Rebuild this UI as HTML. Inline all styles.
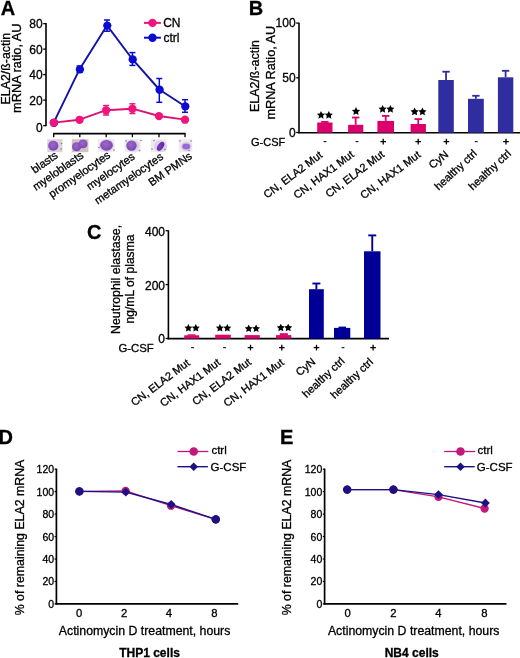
<!DOCTYPE html>
<html><head><meta charset="utf-8"><style>
html,body{margin:0;padding:0;background:#fff;width:520px;height:658px;overflow:hidden}
svg{display:block;font-family:"Liberation Sans",sans-serif;will-change:transform}
text{stroke:#000;stroke-width:0.3px}
</style></head><body>
<svg width="520" height="658" viewBox="0 0 520 658">
<rect width="520" height="658" fill="#fff"/>
<text x="0.70" y="14.60" font-size="20" text-anchor="start" font-weight="bold" fill="#000">A</text>
<text transform="translate(9.60,68.66) rotate(-90)" font-size="12.36" text-anchor="middle" font-weight="normal" fill="#000">ELA2/&#223;-actin</text>
<text transform="translate(21.40,68.20) rotate(-90)" font-size="12.81" text-anchor="middle" font-weight="normal" fill="#000">mRNA ratio, AU</text>
<line x1="46.00" y1="22.90" x2="46.00" y2="126.20" stroke="#000" stroke-width="1.6"/>
<line x1="43.20" y1="125.60" x2="46.00" y2="125.60" stroke="#000" stroke-width="1.3"/>
<text x="42.70" y="131.50" font-size="12" text-anchor="end" font-weight="normal" fill="#000">0</text>
<line x1="43.20" y1="100.11" x2="46.00" y2="100.11" stroke="#000" stroke-width="1.3"/>
<text x="42.70" y="104.91" font-size="12" text-anchor="end" font-weight="normal" fill="#000">20</text>
<line x1="43.20" y1="74.62" x2="46.00" y2="74.62" stroke="#000" stroke-width="1.3"/>
<text x="42.70" y="79.42" font-size="12" text-anchor="end" font-weight="normal" fill="#000">40</text>
<line x1="43.20" y1="49.13" x2="46.00" y2="49.13" stroke="#000" stroke-width="1.3"/>
<text x="42.70" y="53.93" font-size="12" text-anchor="end" font-weight="normal" fill="#000">60</text>
<line x1="43.20" y1="23.64" x2="46.00" y2="23.64" stroke="#000" stroke-width="1.3"/>
<text x="42.70" y="28.44" font-size="12" text-anchor="end" font-weight="normal" fill="#000">80</text>
<line x1="53.20" y1="133.60" x2="185.60" y2="133.60" stroke="#000" stroke-width="1.6"/>
<line x1="53.70" y1="133.60" x2="53.70" y2="137.20" stroke="#000" stroke-width="1.3"/>
<line x1="79.80" y1="133.60" x2="79.80" y2="137.20" stroke="#000" stroke-width="1.3"/>
<line x1="106.20" y1="133.60" x2="106.20" y2="137.20" stroke="#000" stroke-width="1.3"/>
<line x1="132.40" y1="133.60" x2="132.40" y2="137.20" stroke="#000" stroke-width="1.3"/>
<line x1="159.00" y1="133.60" x2="159.00" y2="137.20" stroke="#000" stroke-width="1.3"/>
<line x1="185.00" y1="133.60" x2="185.00" y2="137.20" stroke="#000" stroke-width="1.3"/>
<rect x="47.30" y="139.20" width="15.20" height="13.00" fill="#ddd4cf"/>
<rect x="71.80" y="139.20" width="16.60" height="13.00" fill="#d2c2c4"/>
<rect x="97.80" y="139.20" width="17.00" height="13.00" fill="#f1ecef"/>
<rect x="124.60" y="139.20" width="16.20" height="13.00" fill="#eeeaee"/>
<rect x="150.80" y="139.20" width="15.40" height="13.00" fill="#efebee"/>
<rect x="178.50" y="139.20" width="13.80" height="13.00" fill="#f0ecee"/>
<defs><radialGradient id="cg" cx="45%" cy="40%" r="60%"><stop offset="0" stop-color="#9c68cc"/><stop offset="1" stop-color="#7c48b0"/></radialGradient><radialGradient id="cg2" cx="40%" cy="40%" r="60%"><stop offset="0" stop-color="#7a3cc4"/><stop offset="1" stop-color="#5c2a9c"/></radialGradient></defs>
<ellipse cx="53.5" cy="145.7" rx="6.6" ry="6.3" fill="#dcd0ea"/>
<ellipse cx="106.5" cy="145.5" rx="7.4" ry="6.4" fill="#dcd0ea"/>
<ellipse cx="132.5" cy="145.7" rx="6.8" ry="6" fill="#dcd0ea"/>
<ellipse cx="160.5" cy="146.2" rx="6.5" ry="6" fill="#dcd0ea"/>
<ellipse cx="186.2" cy="146.6" rx="5.6" ry="4.8" fill="#dcd0ea"/>
<ellipse cx="53.3" cy="145.7" rx="5.1" ry="5.0" fill="url(#cg)"/>
<ellipse cx="76.6" cy="146.8" rx="4.6" ry="4.5" fill="url(#cg)"/>
<ellipse cx="83" cy="143.9" rx="4.5" ry="4.4" fill="url(#cg)"/>
<ellipse cx="106.5" cy="145.3" rx="6.3" ry="5.4" fill="url(#cg)"/>
<ellipse cx="131.5" cy="145.6" rx="5.2" ry="5.2" fill="url(#cg)"/>
<ellipse cx="186.2" cy="146.6" rx="4" ry="3" fill="#9a6ad8"/>
<ellipse cx="160.6" cy="146.4" rx="5" ry="2.8" transform="rotate(-55 160.6 146.4)" fill="url(#cg2)"/>
<circle cx="61.5" cy="143.5" r="0.8" fill="#8a8080"/>
<circle cx="61" cy="149" r="0.8" fill="#8a8080"/>
<circle cx="114" cy="150" r="0.8" fill="#8a8080"/>
<circle cx="99" cy="147.5" r="0.8" fill="#8a8080"/>
<circle cx="139.5" cy="150.5" r="0.8" fill="#8a8080"/>
<circle cx="141" cy="140.5" r="0.8" fill="#8a8080"/>
<circle cx="152" cy="149" r="0.8" fill="#8a8080"/>
<circle cx="165" cy="149.5" r="0.8" fill="#8a8080"/>
<circle cx="154" cy="140.5" r="0.8" fill="#8a8080"/>
<circle cx="180" cy="141" r="0.8" fill="#8a8080"/>
<circle cx="191" cy="141" r="0.8" fill="#8a8080"/>
<circle cx="189" cy="150.5" r="0.8" fill="#8a8080"/>
<circle cx="126" cy="141" r="0.8" fill="#8a8080"/>
<text transform="translate(58.70,157.10) rotate(-35)" font-size="11.2" text-anchor="end" font-weight="normal" fill="#000">blasts</text>
<text transform="translate(84.30,157.10) rotate(-35)" font-size="11.2" text-anchor="end" font-weight="normal" fill="#000">myeloblasts</text>
<text transform="translate(111.20,156.80) rotate(-35)" font-size="11.2" text-anchor="end" font-weight="normal" fill="#000">promyelocytes</text>
<text transform="translate(135.70,158.40) rotate(-35)" font-size="11.2" text-anchor="end" font-weight="normal" fill="#000">myelocytes</text>
<text transform="translate(164.00,158.40) rotate(-35)" font-size="11.2" text-anchor="end" font-weight="normal" fill="#000">metamyelocytes</text>
<text transform="translate(192.90,157.70) rotate(-35)" font-size="11.2" text-anchor="end" font-weight="normal" fill="#000">BM PMNs</text>
<polyline points="53.70,122.60 79.60,69.20 107.00,25.40 132.40,59.20 159.30,89.50 185.00,106.20" fill="none" stroke="#1212a8" stroke-width="1.9" stroke-linejoin="round"/>
<line x1="107.00" y1="20.00" x2="107.00" y2="31.20" stroke="#0a0ad0" stroke-width="1.5"/>
<line x1="104.00" y1="20.00" x2="110.00" y2="20.00" stroke="#0a0ad0" stroke-width="1.5"/>
<line x1="104.00" y1="31.20" x2="110.00" y2="31.20" stroke="#0a0ad0" stroke-width="1.5"/>
<line x1="132.40" y1="52.60" x2="132.40" y2="65.40" stroke="#0a0ad0" stroke-width="1.5"/>
<line x1="129.40" y1="52.60" x2="135.40" y2="52.60" stroke="#0a0ad0" stroke-width="1.5"/>
<line x1="129.40" y1="65.40" x2="135.40" y2="65.40" stroke="#0a0ad0" stroke-width="1.5"/>
<line x1="159.30" y1="78.50" x2="159.30" y2="102.30" stroke="#0a0ad0" stroke-width="1.5"/>
<line x1="156.30" y1="78.50" x2="162.30" y2="78.50" stroke="#0a0ad0" stroke-width="1.5"/>
<line x1="156.30" y1="102.30" x2="162.30" y2="102.30" stroke="#0a0ad0" stroke-width="1.5"/>
<line x1="185.00" y1="99.70" x2="185.00" y2="112.30" stroke="#0a0ad0" stroke-width="1.5"/>
<line x1="182.00" y1="99.70" x2="188.00" y2="99.70" stroke="#0a0ad0" stroke-width="1.5"/>
<line x1="182.00" y1="112.30" x2="188.00" y2="112.30" stroke="#0a0ad0" stroke-width="1.5"/>
<line x1="79.60" y1="66.00" x2="79.60" y2="72.40" stroke="#0a0ad0" stroke-width="1.5"/>
<line x1="76.60" y1="66.00" x2="82.60" y2="66.00" stroke="#0a0ad0" stroke-width="1.5"/>
<line x1="76.60" y1="72.40" x2="82.60" y2="72.40" stroke="#0a0ad0" stroke-width="1.5"/>
<circle cx="54.00" cy="122.80" r="4.15" fill="#0a0ad0"/>
<circle cx="79.90" cy="69.40" r="4.15" fill="#0a0ad0"/>
<circle cx="107.30" cy="25.60" r="4.15" fill="#0a0ad0"/>
<circle cx="132.70" cy="59.40" r="4.15" fill="#0a0ad0"/>
<circle cx="159.60" cy="89.70" r="4.15" fill="#0a0ad0"/>
<circle cx="185.30" cy="106.40" r="4.15" fill="#0a0ad0"/>
<polyline points="53.70,122.60 79.60,119.70 106.10,110.20 132.40,108.70 159.00,116.00 185.00,119.60" fill="none" stroke="#dc1272" stroke-width="1.9" stroke-linejoin="round"/>
<line x1="106.10" y1="105.50" x2="106.10" y2="115.00" stroke="#f0147c" stroke-width="1.5"/>
<line x1="103.10" y1="105.50" x2="109.10" y2="105.50" stroke="#f0147c" stroke-width="1.5"/>
<line x1="103.10" y1="115.00" x2="109.10" y2="115.00" stroke="#f0147c" stroke-width="1.5"/>
<line x1="132.40" y1="103.80" x2="132.40" y2="113.50" stroke="#f0147c" stroke-width="1.5"/>
<line x1="129.40" y1="103.80" x2="135.40" y2="103.80" stroke="#f0147c" stroke-width="1.5"/>
<line x1="129.40" y1="113.50" x2="135.40" y2="113.50" stroke="#f0147c" stroke-width="1.5"/>
<circle cx="53.70" cy="122.70" r="4.15" fill="#f0147c"/>
<circle cx="79.60" cy="119.80" r="4.15" fill="#f0147c"/>
<circle cx="106.10" cy="110.30" r="4.15" fill="#f0147c"/>
<circle cx="132.40" cy="108.80" r="4.15" fill="#f0147c"/>
<circle cx="159.00" cy="116.10" r="4.15" fill="#f0147c"/>
<circle cx="185.00" cy="119.70" r="4.15" fill="#f0147c"/>
<line x1="144.00" y1="22.90" x2="160.90" y2="22.90" stroke="#f0147c" stroke-width="2"/>
<circle cx="152.50" cy="22.90" r="4.2" fill="#f0147c"/>
<text x="163.20" y="26.90" font-size="12" text-anchor="start" font-weight="normal" fill="#000">CN</text>
<line x1="144.00" y1="37.70" x2="160.90" y2="37.70" stroke="#0a0ad0" stroke-width="2"/>
<circle cx="152.50" cy="37.70" r="4.2" fill="#0a0ad0"/>
<text x="163.40" y="42.10" font-size="12" text-anchor="start" font-weight="normal" fill="#000">ctrl</text>
<text x="248.80" y="14.50" font-size="20" text-anchor="start" font-weight="bold" fill="#000">B</text>
<text transform="translate(259.40,76.11) rotate(-90)" font-size="12.45" text-anchor="middle" font-weight="normal" fill="#000">ELA2/&#223;-actin</text>
<text transform="translate(275.30,72.70) rotate(-90)" font-size="12.7" text-anchor="middle" font-weight="normal" fill="#000">mRNA Ratio, AU</text>
<line x1="299.00" y1="22.80" x2="299.00" y2="133.30" stroke="#000" stroke-width="1.6"/>
<line x1="296.20" y1="132.50" x2="299.00" y2="132.50" stroke="#000" stroke-width="1.3"/>
<text x="295.60" y="136.80" font-size="12" text-anchor="end" font-weight="normal" fill="#000">0</text>
<line x1="296.20" y1="77.80" x2="299.00" y2="77.80" stroke="#000" stroke-width="1.3"/>
<text x="295.60" y="82.10" font-size="12" text-anchor="end" font-weight="normal" fill="#000">50</text>
<line x1="296.20" y1="23.10" x2="299.00" y2="23.10" stroke="#000" stroke-width="1.3"/>
<text x="295.60" y="27.40" font-size="12" text-anchor="end" font-weight="normal" fill="#000">100</text>
<line x1="298.20" y1="132.70" x2="520.00" y2="132.70" stroke="#000" stroke-width="1.6"/>
<rect x="317.20" y="122.50" width="15.30" height="10.20" fill="#dc006c"/>
<line x1="324.85" y1="121.90" x2="324.85" y2="122.50" stroke="#dc006c" stroke-width="1.8"/>
<line x1="321.15" y1="121.90" x2="328.55" y2="121.90" stroke="#dc006c" stroke-width="1.8"/>
<rect x="348.10" y="124.80" width="15.20" height="7.90" fill="#dc006c"/>
<line x1="355.70" y1="117.50" x2="355.70" y2="124.80" stroke="#dc006c" stroke-width="1.8"/>
<line x1="352.00" y1="117.50" x2="359.40" y2="117.50" stroke="#dc006c" stroke-width="1.8"/>
<rect x="377.40" y="120.90" width="16.60" height="11.80" fill="#dc006c"/>
<line x1="385.70" y1="115.90" x2="385.70" y2="120.90" stroke="#dc006c" stroke-width="1.8"/>
<line x1="382.00" y1="115.90" x2="389.40" y2="115.90" stroke="#dc006c" stroke-width="1.8"/>
<rect x="410.60" y="124.00" width="15.30" height="8.70" fill="#dc006c"/>
<line x1="418.25" y1="119.10" x2="418.25" y2="124.00" stroke="#dc006c" stroke-width="1.8"/>
<line x1="414.55" y1="119.10" x2="421.95" y2="119.10" stroke="#dc006c" stroke-width="1.8"/>
<rect x="438.30" y="80.00" width="15.50" height="52.70" fill="#302da0"/>
<line x1="446.05" y1="71.70" x2="446.05" y2="80.00" stroke="#302da0" stroke-width="1.8"/>
<line x1="442.35" y1="71.70" x2="449.75" y2="71.70" stroke="#302da0" stroke-width="1.8"/>
<rect x="468.00" y="98.80" width="15.80" height="33.90" fill="#302da0"/>
<line x1="475.90" y1="95.80" x2="475.90" y2="98.80" stroke="#302da0" stroke-width="1.8"/>
<line x1="472.20" y1="95.80" x2="479.60" y2="95.80" stroke="#302da0" stroke-width="1.8"/>
<rect x="497.90" y="77.30" width="15.40" height="55.40" fill="#302da0"/>
<line x1="505.60" y1="70.80" x2="505.60" y2="77.30" stroke="#302da0" stroke-width="1.8"/>
<line x1="501.90" y1="70.80" x2="509.30" y2="70.80" stroke="#302da0" stroke-width="1.8"/>
<polygon points="321.00,110.90 322.26,113.46 325.09,113.87 323.04,115.86 323.53,118.68 321.00,117.35 318.47,118.68 318.96,115.86 316.91,113.87 319.74,113.46" fill="#000"/>
<polygon points="328.80,110.90 330.06,113.46 332.89,113.87 330.84,115.86 331.33,118.68 328.80,117.35 326.27,118.68 326.76,115.86 324.71,113.87 327.54,113.46" fill="#000"/>
<polygon points="356.00,107.05 357.28,109.64 360.14,110.06 358.07,112.07 358.56,114.92 356.00,113.58 353.44,114.92 353.93,112.07 351.86,110.06 354.72,109.64" fill="#000"/>
<polygon points="382.60,104.90 383.86,107.46 386.69,107.87 384.64,109.86 385.13,112.68 382.60,111.35 380.07,112.68 380.56,109.86 378.51,107.87 381.34,107.46" fill="#000"/>
<polygon points="390.40,104.90 391.66,107.46 394.49,107.87 392.44,109.86 392.93,112.68 390.40,111.35 387.87,112.68 388.36,109.86 386.31,107.87 389.14,107.46" fill="#000"/>
<polygon points="414.60,107.50 415.86,110.06 418.69,110.47 416.64,112.46 417.13,115.28 414.60,113.95 412.07,115.28 412.56,112.46 410.51,110.47 413.34,110.06" fill="#000"/>
<polygon points="422.40,107.50 423.66,110.06 426.49,110.47 424.44,112.46 424.93,115.28 422.40,113.95 419.87,115.28 420.36,112.46 418.31,110.47 421.14,110.06" fill="#000"/>
<text x="251.00" y="146.00" font-size="11" text-anchor="start" font-weight="normal" fill="#000">G-CSF</text>
<rect x="323.60" y="141.00" width="2.80" height="1.20" fill="#222"/>
<rect x="355.60" y="141.00" width="2.80" height="1.20" fill="#222"/>
<line x1="380.40" y1="141.60" x2="386.00" y2="141.60" stroke="#000" stroke-width="1.3"/>
<line x1="383.20" y1="138.80" x2="383.20" y2="144.40" stroke="#000" stroke-width="1.3"/>
<line x1="415.40" y1="141.60" x2="421.00" y2="141.60" stroke="#000" stroke-width="1.3"/>
<line x1="418.20" y1="138.80" x2="418.20" y2="144.40" stroke="#000" stroke-width="1.3"/>
<line x1="443.60" y1="141.60" x2="449.20" y2="141.60" stroke="#000" stroke-width="1.3"/>
<line x1="446.40" y1="138.80" x2="446.40" y2="144.40" stroke="#000" stroke-width="1.3"/>
<rect x="474.80" y="141.00" width="2.80" height="1.20" fill="#222"/>
<line x1="503.20" y1="141.60" x2="508.80" y2="141.60" stroke="#000" stroke-width="1.3"/>
<line x1="506.00" y1="138.80" x2="506.00" y2="144.40" stroke="#000" stroke-width="1.3"/>
<text transform="translate(323.25,156.45) rotate(-37)" font-size="11" text-anchor="end" font-weight="normal" fill="#000">CN, ELA2 Mut</text>
<text transform="translate(354.65,155.85) rotate(-37)" font-size="11" text-anchor="end" font-weight="normal" fill="#000">CN, HAX1 Mut</text>
<text transform="translate(385.15,155.80) rotate(-37)" font-size="11" text-anchor="end" font-weight="normal" fill="#000">CN, ELA2 Mut</text>
<text transform="translate(421.45,156.10) rotate(-37)" font-size="11" text-anchor="end" font-weight="normal" fill="#000">CN, HAX1 Mut</text>
<text transform="translate(449.20,155.75) rotate(-39)" font-size="11" text-anchor="end" font-weight="normal" fill="#000">CyN</text>
<text transform="translate(477.65,154.40) rotate(-43)" font-size="11" text-anchor="end" font-weight="normal" fill="#000">healthy ctrl</text>
<text transform="translate(511.75,154.50) rotate(-43)" font-size="11" text-anchor="end" font-weight="normal" fill="#000">healthy ctrl</text>
<text x="87.00" y="239.20" font-size="20" text-anchor="start" font-weight="bold" fill="#000">C</text>
<text transform="translate(120.00,279.40) rotate(-90)" font-size="12.34" text-anchor="middle" font-weight="normal" fill="#000">Neutrophil elastase,</text>
<text transform="translate(134.20,279.00) rotate(-90)" font-size="12.09" text-anchor="middle" font-weight="normal" fill="#000">ng/mL of plasma</text>
<line x1="168.40" y1="230.30" x2="168.40" y2="339.20" stroke="#000" stroke-width="1.6"/>
<line x1="165.60" y1="338.50" x2="168.40" y2="338.50" stroke="#000" stroke-width="1.3"/>
<text x="165.00" y="342.80" font-size="12" text-anchor="end" font-weight="normal" fill="#000">0</text>
<line x1="165.60" y1="284.60" x2="168.40" y2="284.60" stroke="#000" stroke-width="1.3"/>
<text x="165.00" y="289.50" font-size="12" text-anchor="end" font-weight="normal" fill="#000">200</text>
<line x1="165.60" y1="230.70" x2="168.40" y2="230.70" stroke="#000" stroke-width="1.3"/>
<text x="165.00" y="235.60" font-size="12" text-anchor="end" font-weight="normal" fill="#000">400</text>
<line x1="167.60" y1="338.60" x2="389.00" y2="338.60" stroke="#000" stroke-width="1.6"/>
<rect x="184.20" y="335.30" width="15.00" height="3.30" fill="#d8086c"/>
<rect x="187.50" y="334.30" width="8.00" height="1.50" fill="#d8086c"/>
<rect x="215.20" y="334.70" width="15.60" height="3.90" fill="#d8086c"/>
<rect x="244.60" y="335.10" width="15.20" height="3.50" fill="#d8086c"/>
<rect x="276.00" y="335.10" width="15.30" height="3.50" fill="#d8086c"/>
<rect x="279.80" y="333.20" width="8.10" height="2.40" fill="#d8086c"/>
<rect x="309.00" y="289.20" width="14.80" height="49.40" fill="#000096"/>
<line x1="316.40" y1="283.50" x2="316.40" y2="289.20" stroke="#000096" stroke-width="1.9"/>
<line x1="312.40" y1="283.50" x2="320.40" y2="283.50" stroke="#000096" stroke-width="1.9"/>
<rect x="334.00" y="327.90" width="16.30" height="10.70" fill="#000096"/>
<rect x="338.50" y="326.60" width="7.50" height="1.80" fill="#000096"/>
<rect x="364.00" y="251.30" width="16.50" height="87.30" fill="#000096"/>
<line x1="372.25" y1="235.40" x2="372.25" y2="251.30" stroke="#000096" stroke-width="1.9"/>
<line x1="368.25" y1="235.40" x2="376.25" y2="235.40" stroke="#000096" stroke-width="1.9"/>
<polygon points="188.40,323.95 189.62,326.42 192.35,326.82 190.37,328.74 190.84,331.46 188.40,330.18 185.96,331.46 186.43,328.74 184.45,326.82 187.18,326.42" fill="#000"/>
<polygon points="195.80,323.95 197.02,326.42 199.75,326.82 197.77,328.74 198.24,331.46 195.80,330.18 193.36,331.46 193.83,328.74 191.85,326.82 194.58,326.42" fill="#000"/>
<polygon points="219.90,323.95 221.12,326.42 223.85,326.82 221.87,328.74 222.34,331.46 219.90,330.18 217.46,331.46 217.93,328.74 215.95,326.82 218.68,326.42" fill="#000"/>
<polygon points="227.30,323.95 228.52,326.42 231.25,326.82 229.27,328.74 229.74,331.46 227.30,330.18 224.86,331.46 225.33,328.74 223.35,326.82 226.08,326.42" fill="#000"/>
<polygon points="248.70,324.55 249.92,327.02 252.65,327.42 250.67,329.34 251.14,332.06 248.70,330.78 246.26,332.06 246.73,329.34 244.75,327.42 247.48,327.02" fill="#000"/>
<polygon points="256.10,324.55 257.32,327.02 260.05,327.42 258.07,329.34 258.54,332.06 256.10,330.78 253.66,332.06 254.13,329.34 252.15,327.42 254.88,327.02" fill="#000"/>
<polygon points="280.80,323.65 282.02,326.12 284.75,326.52 282.77,328.44 283.24,331.16 280.80,329.88 278.36,331.16 278.83,328.44 276.85,326.52 279.58,326.12" fill="#000"/>
<polygon points="288.20,323.65 289.42,326.12 292.15,326.52 290.17,328.44 290.64,331.16 288.20,329.88 285.76,331.16 286.23,328.44 284.25,326.52 286.98,326.12" fill="#000"/>
<text x="118.40" y="351.50" font-size="11.4" text-anchor="start" font-weight="normal" fill="#000">G-CSF</text>
<rect x="191.10" y="347.00" width="2.80" height="1.20" fill="#222"/>
<rect x="223.10" y="347.00" width="2.80" height="1.20" fill="#222"/>
<line x1="247.70" y1="347.60" x2="253.30" y2="347.60" stroke="#000" stroke-width="1.3"/>
<line x1="250.50" y1="344.80" x2="250.50" y2="350.40" stroke="#000" stroke-width="1.3"/>
<line x1="279.00" y1="347.60" x2="284.60" y2="347.60" stroke="#000" stroke-width="1.3"/>
<line x1="281.80" y1="344.80" x2="281.80" y2="350.40" stroke="#000" stroke-width="1.3"/>
<line x1="313.70" y1="347.60" x2="319.30" y2="347.60" stroke="#000" stroke-width="1.3"/>
<line x1="316.50" y1="344.80" x2="316.50" y2="350.40" stroke="#000" stroke-width="1.3"/>
<rect x="341.60" y="347.00" width="2.80" height="1.20" fill="#222"/>
<line x1="370.30" y1="347.60" x2="375.90" y2="347.60" stroke="#000" stroke-width="1.3"/>
<line x1="373.10" y1="344.80" x2="373.10" y2="350.40" stroke="#000" stroke-width="1.3"/>
<text transform="translate(190.65,364.30) rotate(-37)" font-size="11" text-anchor="end" font-weight="normal" fill="#000">CN, ELA2 Mut</text>
<text transform="translate(221.20,363.85) rotate(-37)" font-size="11" text-anchor="end" font-weight="normal" fill="#000">CN, HAX1 Mut</text>
<text transform="translate(251.85,363.55) rotate(-37)" font-size="11" text-anchor="end" font-weight="normal" fill="#000">CN, ELA2 Mut</text>
<text transform="translate(284.70,363.90) rotate(-37)" font-size="11" text-anchor="end" font-weight="normal" fill="#000">CN, HAX1 Mut</text>
<text transform="translate(316.20,363.10) rotate(-39)" font-size="11" text-anchor="end" font-weight="normal" fill="#000">CyN</text>
<text transform="translate(345.35,361.95) rotate(-43)" font-size="11" text-anchor="end" font-weight="normal" fill="#000">healthy ctrl</text>
<text transform="translate(373.70,362.90) rotate(-43)" font-size="11" text-anchor="end" font-weight="normal" fill="#000">healthy ctrl</text>
<text x="-1.50" y="443.70" font-size="20" text-anchor="start" font-weight="bold" fill="#000">D</text>
<line x1="56.40" y1="468.60" x2="56.40" y2="604.60" stroke="#000" stroke-width="1.7"/>
<line x1="54.60" y1="603.90" x2="56.40" y2="603.90" stroke="#000" stroke-width="1.2"/>
<text x="54.10" y="607.90" font-size="10.5" text-anchor="end" font-weight="normal" fill="#000">0</text>
<line x1="54.60" y1="581.45" x2="56.40" y2="581.45" stroke="#000" stroke-width="1.2"/>
<text x="54.10" y="585.45" font-size="10.5" text-anchor="end" font-weight="normal" fill="#000">20</text>
<line x1="54.60" y1="559.00" x2="56.40" y2="559.00" stroke="#000" stroke-width="1.2"/>
<text x="54.10" y="563.00" font-size="10.5" text-anchor="end" font-weight="normal" fill="#000">40</text>
<line x1="54.60" y1="536.55" x2="56.40" y2="536.55" stroke="#000" stroke-width="1.2"/>
<text x="54.10" y="540.55" font-size="10.5" text-anchor="end" font-weight="normal" fill="#000">60</text>
<line x1="54.60" y1="514.10" x2="56.40" y2="514.10" stroke="#000" stroke-width="1.2"/>
<text x="54.10" y="518.10" font-size="10.5" text-anchor="end" font-weight="normal" fill="#000">80</text>
<line x1="54.60" y1="491.65" x2="56.40" y2="491.65" stroke="#000" stroke-width="1.2"/>
<text x="54.10" y="495.65" font-size="10.5" text-anchor="end" font-weight="normal" fill="#000">100</text>
<line x1="54.60" y1="469.20" x2="56.40" y2="469.20" stroke="#000" stroke-width="1.2"/>
<text x="54.10" y="473.20" font-size="10.5" text-anchor="end" font-weight="normal" fill="#000">120</text>
<line x1="55.60" y1="603.90" x2="238.20" y2="603.90" stroke="#000" stroke-width="1.7"/>
<text x="79.20" y="617.40" font-size="11.3" text-anchor="middle" font-weight="normal" fill="#000">0</text>
<text x="124.20" y="617.40" font-size="11.3" text-anchor="middle" font-weight="normal" fill="#000">2</text>
<text x="168.90" y="617.40" font-size="11.3" text-anchor="middle" font-weight="normal" fill="#000">4</text>
<text x="214.40" y="617.40" font-size="11.3" text-anchor="middle" font-weight="normal" fill="#000">8</text>
<text x="58.80" y="634.60" font-size="12.3" text-anchor="start" font-weight="normal" fill="#000">Actinomycin D treatment, hours</text>
<text x="119.20" y="657.30" font-size="12" text-anchor="start" font-weight="bold" fill="#000">THP1 cells</text>
<text transform="translate(23.60,537.51) rotate(-90)" font-size="12.34" text-anchor="middle" font-weight="normal" fill="#000">% of remaining ELA2 mRNA</text>
<polyline points="79.40,491.40 125.60,490.90 171.00,505.70 215.80,519.40" fill="none" stroke="#c2187c" stroke-width="1.35" stroke-linejoin="round"/>
<polyline points="79.40,491.40 125.80,492.10 171.20,504.50 215.80,519.40" fill="none" stroke="#1a1282" stroke-width="1.45" stroke-linejoin="round"/>
<circle cx="79.40" cy="491.40" r="4.15" fill="#c2187c"/>
<circle cx="125.60" cy="490.90" r="4.15" fill="#c2187c"/>
<circle cx="171.00" cy="505.70" r="4.15" fill="#c2187c"/>
<circle cx="215.80" cy="519.40" r="4.15" fill="#c2187c"/>
<path d="M79.40 487.00L83.80 491.40L79.40 495.80L75.00 491.40Z" fill="#1a1282"/>
<path d="M125.80 487.70L130.20 492.10L125.80 496.50L121.40 492.10Z" fill="#1a1282"/>
<path d="M171.20 500.10L175.60 504.50L171.20 508.90L166.80 504.50Z" fill="#1a1282"/>
<path d="M215.80 515.00L220.20 519.40L215.80 523.80L211.40 519.40Z" fill="#1a1282"/>
<circle cx="79.40" cy="491.40" r="4.2" fill="#1a1282"/>
<circle cx="215.80" cy="519.40" r="4.2" fill="#1a1282"/>
<line x1="177.40" y1="451.50" x2="208.40" y2="451.50" stroke="#c2187c" stroke-width="1.3"/>
<circle cx="193.70" cy="451.50" r="4.3" fill="#c2187c"/>
<text x="211.40" y="453.80" font-size="11.5" text-anchor="start" font-weight="normal" fill="#000">ctrl</text>
<line x1="177.40" y1="466.70" x2="207.90" y2="466.70" stroke="#1a1282" stroke-width="1.4"/>
<path d="M193.70 462.40L198.00 466.70L193.70 471.00L189.40 466.70Z" fill="#1a1282"/>
<text x="210.60" y="470.80" font-size="11.5" text-anchor="start" font-weight="normal" fill="#000">G-CSF</text>
<text x="280.00" y="443.70" font-size="20" text-anchor="start" font-weight="bold" fill="#000">E</text>
<line x1="324.60" y1="468.60" x2="324.60" y2="604.60" stroke="#000" stroke-width="1.7"/>
<line x1="322.80" y1="603.90" x2="324.60" y2="603.90" stroke="#000" stroke-width="1.2"/>
<text x="322.30" y="607.90" font-size="10.5" text-anchor="end" font-weight="normal" fill="#000">0</text>
<line x1="322.80" y1="581.45" x2="324.60" y2="581.45" stroke="#000" stroke-width="1.2"/>
<text x="322.30" y="585.45" font-size="10.5" text-anchor="end" font-weight="normal" fill="#000">20</text>
<line x1="322.80" y1="559.00" x2="324.60" y2="559.00" stroke="#000" stroke-width="1.2"/>
<text x="322.30" y="563.00" font-size="10.5" text-anchor="end" font-weight="normal" fill="#000">40</text>
<line x1="322.80" y1="536.55" x2="324.60" y2="536.55" stroke="#000" stroke-width="1.2"/>
<text x="322.30" y="540.55" font-size="10.5" text-anchor="end" font-weight="normal" fill="#000">60</text>
<line x1="322.80" y1="514.10" x2="324.60" y2="514.10" stroke="#000" stroke-width="1.2"/>
<text x="322.30" y="518.10" font-size="10.5" text-anchor="end" font-weight="normal" fill="#000">80</text>
<line x1="322.80" y1="491.65" x2="324.60" y2="491.65" stroke="#000" stroke-width="1.2"/>
<text x="322.30" y="495.65" font-size="10.5" text-anchor="end" font-weight="normal" fill="#000">100</text>
<line x1="322.80" y1="469.20" x2="324.60" y2="469.20" stroke="#000" stroke-width="1.2"/>
<text x="322.30" y="473.20" font-size="10.5" text-anchor="end" font-weight="normal" fill="#000">120</text>
<line x1="323.80" y1="603.90" x2="506.50" y2="603.90" stroke="#000" stroke-width="1.7"/>
<text x="347.60" y="617.40" font-size="11.3" text-anchor="middle" font-weight="normal" fill="#000">0</text>
<text x="393.30" y="617.40" font-size="11.3" text-anchor="middle" font-weight="normal" fill="#000">2</text>
<text x="438.30" y="617.40" font-size="11.3" text-anchor="middle" font-weight="normal" fill="#000">4</text>
<text x="484.40" y="617.40" font-size="11.3" text-anchor="middle" font-weight="normal" fill="#000">8</text>
<text x="327.90" y="634.60" font-size="12.3" text-anchor="start" font-weight="normal" fill="#000">Actinomycin D treatment, hours</text>
<text x="384.70" y="657.30" font-size="12" text-anchor="start" font-weight="bold" fill="#000">NB4 cells</text>
<text transform="translate(291.10,537.51) rotate(-90)" font-size="12.34" text-anchor="middle" font-weight="normal" fill="#000">% of remaining ELA2 mRNA</text>
<polyline points="347.20,489.60 393.40,489.60 438.50,496.90 484.60,508.50" fill="none" stroke="#c2187c" stroke-width="1.35" stroke-linejoin="round"/>
<polyline points="347.20,489.60 393.40,489.60 438.50,494.60 485.40,503.00" fill="none" stroke="#1a1282" stroke-width="1.45" stroke-linejoin="round"/>
<circle cx="347.20" cy="489.60" r="4.15" fill="#c2187c"/>
<circle cx="393.40" cy="489.60" r="4.15" fill="#c2187c"/>
<circle cx="438.50" cy="496.90" r="4.15" fill="#c2187c"/>
<circle cx="484.60" cy="508.50" r="4.15" fill="#c2187c"/>
<path d="M347.20 485.20L351.60 489.60L347.20 494.00L342.80 489.60Z" fill="#1a1282"/>
<path d="M393.40 485.20L397.80 489.60L393.40 494.00L389.00 489.60Z" fill="#1a1282"/>
<path d="M438.50 490.20L442.90 494.60L438.50 499.00L434.10 494.60Z" fill="#1a1282"/>
<path d="M485.40 498.60L489.80 503.00L485.40 507.40L481.00 503.00Z" fill="#1a1282"/>
<circle cx="347.20" cy="489.60" r="4.2" fill="#1a1282"/>
<circle cx="393.40" cy="489.60" r="4.2" fill="#1a1282"/>
<line x1="444.20" y1="451.50" x2="475.20" y2="451.50" stroke="#c2187c" stroke-width="1.3"/>
<circle cx="460.50" cy="451.50" r="4.3" fill="#c2187c"/>
<text x="477.60" y="453.80" font-size="11.5" text-anchor="start" font-weight="normal" fill="#000">ctrl</text>
<line x1="444.20" y1="466.70" x2="474.70" y2="466.70" stroke="#1a1282" stroke-width="1.4"/>
<path d="M460.50 462.40L464.80 466.70L460.50 471.00L456.20 466.70Z" fill="#1a1282"/>
<text x="476.80" y="470.80" font-size="11.5" text-anchor="start" font-weight="normal" fill="#000">G-CSF</text>
</svg>
</body></html>
